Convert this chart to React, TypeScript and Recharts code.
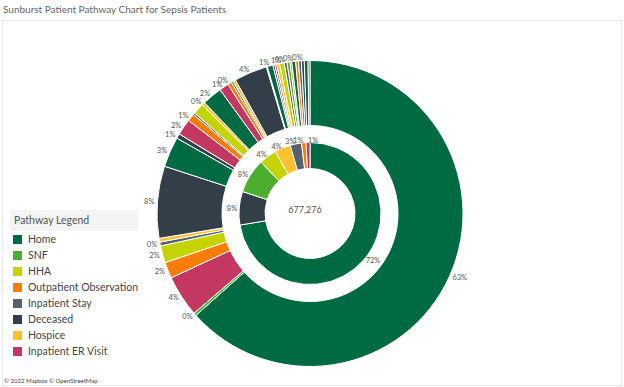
import { PieChart, Pie, Cell } from "recharts";

const FONT = "Lato, 'Open Sans', sans-serif";

const pathwayColor: Record<string, string> = {
  Home: "#006A42",
  SNF: "#4BAE2F",
  HHA: "#C5D400",
  "Outpatient Observation": "#FA7D00",
  "Inpatient Stay": "#56626D",
  Deceased: "#333F48",
  Hospice: "#FDC12E",
  "Inpatient ER Visit": "#C53763",
};

const legendOrder = [
  "Home", "SNF", "HHA", "Outpatient Observation",
  "Inpatient Stay", "Deceased", "Hospice", "Inpatient ER Visit",
];

const TOTAL_PATIENTS = 677276;

// first step after the sepsis admission, % of all patients
const firstStep = [
  "Home", "Deceased", "SNF", "HHA", "Hospice",
  "Inpatient Stay", "Outpatient Observation", "Inpatient ER Visit",
];
const firstShare = [72.4, 7.6, 7.9, 4.0, 3.6, 2.6, 1.0, 0.9];

// second step, grouped under the first step (same order as above)
const secondFrom = [
  "Home", "Home", "Home", "Home", "Home", "Home", "Home",
  "Deceased",
  "SNF", "SNF", "SNF", "SNF", "SNF", "SNF", "SNF",
  "HHA", "HHA", "HHA", "HHA", "HHA",
  "Hospice", "Hospice",
  "Inpatient Stay", "Inpatient Stay", "Inpatient Stay", "Inpatient Stay",
  "Inpatient Stay", "Inpatient Stay", "Inpatient Stay", "Inpatient Stay",
  "Outpatient Observation", "Outpatient Observation", "Outpatient Observation",
  "Inpatient ER Visit", "Inpatient ER Visit", "Inpatient ER Visit",
];
const secondStep = [
  "Home", "SNF", "Inpatient ER Visit", "Outpatient Observation", "HHA", "Inpatient Stay", "Hospice",
  "Deceased",
  "Home", "Deceased", "Inpatient ER Visit", "Outpatient Observation", "Inpatient Stay", "HHA", "Hospice",
  "Home", "Inpatient ER Visit", "Outpatient Observation", "Inpatient Stay", "Hospice",
  "Deceased", "Hospice",
  "Home", "Deceased", "Inpatient ER Visit", "Hospice", "HHA", "Inpatient Stay", "SNF", "Outpatient Observation",
  "Home", "Outpatient Observation", "Inpatient Stay",
  "Deceased", "Home", "Inpatient ER Visit",
];
const secondShare = [
  63.4, 0.3, 4.4, 1.7, 1.8, 0.4, 0.4,
  7.6,
  3.2, 0.5, 1.7, 0.8, 0.2, 1.2, 0.3,
  2.1, 1.0, 0.4, 0.2, 0.3,
  3.5, 0.1,
  0.6, 0.2, 0.2, 0.3, 0.5, 0.3, 0.3, 0.2,
  0.4, 0.3, 0.3,
  0.3, 0.4, 0.2,
];
// which outer slices carry a % label in the original
const secondLabelled = [0, 1, 2, 3, 4, 5, 7, 8, 9, 10, 11, 14, 15, 16, 17, 20, 22, 26, 27, 30, 33];

const inner = firstStep.map((name, i) => ({ name, value: firstShare[i] }));
const outer = secondStep.map((name, i) => ({
  name, from: secondFrom[i], value: secondShare[i],
}));

const CX = 305;
const CY = 208.5;
const RAD = Math.PI / 180;

const pctLabel = (shown: (i: number) => boolean, gap: number) => (props: any) => {
  const { cx, cy, midAngle, outerRadius, index } = props;
  if (!shown(index)) return null;
  const value = props.value ?? props.payload?.value;
  const r = outerRadius + gap;
  const x = cx + r * Math.cos(-midAngle * RAD);
  const y = cy + r * Math.sin(-midAngle * RAD);
  return (
    <text
      x={x} y={y}
      textAnchor={x < cx - 3 ? "end" : "start"}
      dominantBaseline="central"
      fontSize={7.5} fill="#555" fontFamily={FONT}
    >
      {Math.round(value)}%
    </text>
  );
};

export default function App() {
  return (
    <div style={{ position: "absolute", left: 0, top: 0, width: 624, height: 387, background: "#fff", fontFamily: FONT, overflow: "hidden" }}>
      <div style={{ position: "absolute", left: 3, top: 3, fontSize: 10, color: "#666", whiteSpace: "nowrap" }}>
        Sunburst Patient Pathway Chart for Sepsis Patients
      </div>
      <div style={{ position: "absolute", left: 2, top: 20, width: 620, height: 366, border: "1px solid #E6E6E6", boxSizing: "border-box" }} />

      <div style={{ position: "absolute", left: 0, top: 0 }}>
        <PieChart width={624} height={387}>
          <Pie
            data={inner}
            dataKey="value"
            nameKey="name"
            cx={CX}
            cy={CY}
            innerRadius={45}
            outerRadius={71}
            startAngle={90}
            endAngle={-270}
            stroke="#fff"
            strokeWidth={1}
            labelLine={false}
            label={pctLabel(() => true, 2)}
            isAnimationActive={false}
          >
            {inner.map((d) => (
              <Cell key={d.name} fill={pathwayColor[d.name]} />
            ))}
          </Pie>
          <Pie
            data={outer}
            dataKey="value"
            nameKey="name"
            cx={CX}
            cy={CY}
            innerRadius={88}
            outerRadius={153}
            startAngle={90}
            endAngle={-270}
            stroke="#fff"
            strokeWidth={1}
            labelLine={false}
            label={pctLabel((i) => secondLabelled.includes(i), 3)}
            isAnimationActive={false}
          >
            {outer.map((d, i) => (
              <Cell key={i} fill={pathwayColor[d.name]} />
            ))}
          </Pie>
        </PieChart>
      </div>

      <div style={{ position: "absolute", left: CX, top: CY, transform: "translate(-50%, -50%)", fontSize: 9, color: "#555", whiteSpace: "nowrap" }}>
        {TOTAL_PATIENTS.toLocaleString("en-US")}
      </div>

      <div style={{ position: "absolute", left: 10, top: 210, width: 128 }}>
        <div style={{ background: "#F4F4F4", height: 21, lineHeight: "21px", paddingLeft: 4, fontSize: 10.5, color: "#555" }}>
          Pathway Legend
        </div>
        {legendOrder.map((p) => (
          <div key={p} style={{ height: 16, display: "flex", alignItems: "center", fontSize: 10.5, color: "#444", whiteSpace: "nowrap" }}>
            <span style={{ display: "inline-block", width: 9, height: 9, background: pathwayColor[p], marginLeft: 3, marginRight: 6 }} />
            {p}
          </div>
        ))}
      </div>

      <div style={{ position: "absolute", left: 4, top: 377, fontSize: 6, color: "#444", whiteSpace: "nowrap" }}>
        © 2022 Mapbox © OpenStreetMap
      </div>
    </div>
  );
}
